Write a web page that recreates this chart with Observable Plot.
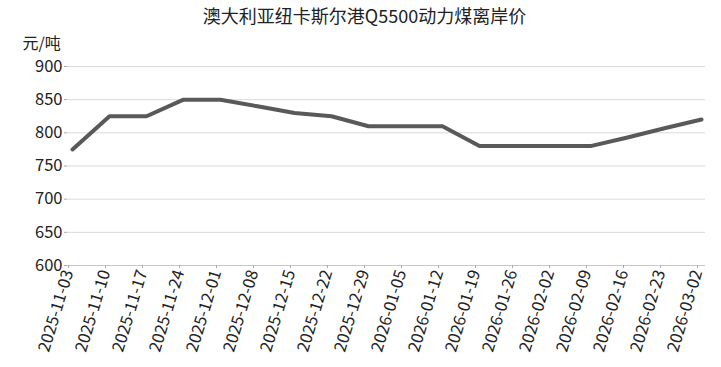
<!DOCTYPE html>
<html><head><meta charset="utf-8">
<script src="https://cdn.jsdelivr.net/npm/d3@7"></script>
<script src="https://cdn.jsdelivr.net/npm/@observablehq/plot@0.6"></script>
<style>
body{margin:0;background:#fff;font-family:"Noto Sans CJK SC","Noto Sans",sans-serif;}
#title{height:30px;line-height:30px;text-align:center;font-size:18px;color:#222;width:721px;padding-left:8px;box-sizing:border-box;}
</style></head>
<body>
<div id="title">澳大利亚纽卡斯尔港Q5500动力煤离岸价</div>
<div id="chart"></div>
<script>
const dates = ["2025-11-03","2025-11-10","2025-11-17","2025-11-24","2025-12-01","2025-12-08","2025-12-15","2025-12-22","2025-12-29","2026-01-05","2026-01-12","2026-01-19","2026-01-26","2026-02-02","2026-02-09","2026-02-16","2026-02-23","2026-03-02"];
const prices = [775,825,825,850,850,840,830,825,810,810,810,780,780,780,780,793,807,820];
const yTicks = [600,650,700,750,800,850,900];
const unitLabel = "元/吨";
const data = dates.map((d,i)=>({date:d, price:prices[i]}));

const chart = Plot.plot({
  width: 721,
  height: 337,
  marginLeft: 67,
  marginRight: 16,
  marginTop: 36,
  marginBottom: 102,
  style: {fontFamily: '"Noto Sans CJK SC","Noto Sans",sans-serif', fontSize: "16.5px", color: "#222", background: "#fff"},
  x: {type: "point", domain: dates, padding: 0},
  y: {domain: [600, 900], ticks: yTicks},
  marks: [
    Plot.gridY(yTicks, {stroke: "#d9d9d9", strokeOpacity: 1}),
    Plot.ruleY([600], {stroke: "#c8c8c8"}),
    Plot.axisY({ticks: yTicks, label: null, tickSize: 3, tickPadding: 2, stroke: "#aaa", fontSize: 16.5}),
    Plot.axisX({label: null, tickRotate: -73, tickSize: 3, tickPadding: 2, stroke: "#aaa", fontSize: 16.5, dx: -4}),
    Plot.line(data, {x: "date", y: "price", stroke: "#595959", strokeWidth: 4, strokeLinejoin: "round"}),
    Plot.text([unitLabel], {frameAnchor: "top-left", text: d => d, dx: -45, dy: -29, textAnchor: "start", fontSize: 16, fill: "#222"})
  ]
});
document.getElementById("chart").appendChild(chart);
</script>
</body></html>
